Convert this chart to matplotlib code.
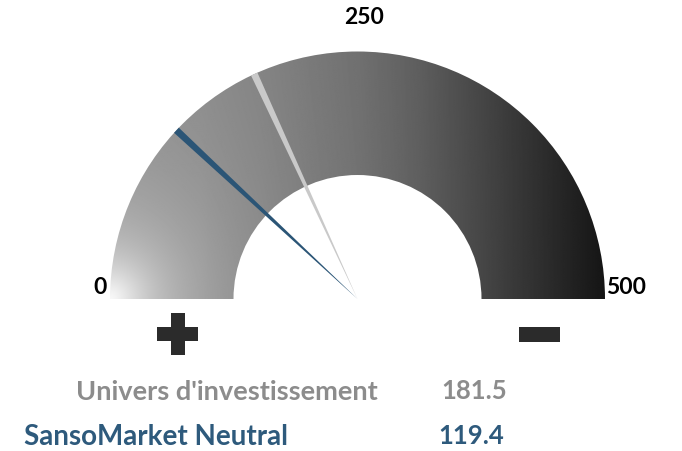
import numpy as np
import matplotlib
matplotlib.use("Agg")
import matplotlib.pyplot as plt
from matplotlib.patches import Wedge, Polygon, Rectangle

# --- data ---
series_names = ["Univers d'investissement", "SansoMarket Neutral"]
series_values = [181.5, 119.4]
series_colors = ["#8c8c8c", "#2e5a7c"]
needle_colors = ["#c9c9c9", "#2b5576"]
scale_min, scale_max = 0, 500
scale_ticks = [0, 250, 500]

plt.rcParams['font.family'] = ['Lato', 'DejaVu Sans']

W, H = 682, 452
fig = plt.figure(figsize=(W / 100, H / 100), dpi=100)
ax = fig.add_axes([0, 0, 1, 1])
ax.set_xlim(0, W)
ax.set_ylim(0, H)
ax.axis("off")

# gauge geometry (pixel coords, y up)
cx, cy = 357.5, H - 300
r_out, r_in = 247.5, 124

# gradient ring: dark to the right, with a white glow in the bottom-left corner
xs = np.linspace(cx - r_out, cx + r_out, 500)
ys = np.linspace(cy, cy + r_out, 250)
gx, gy = np.meshgrid(xs, ys)
base = np.interp(gx, [110, 200, 260, 357, 420, 480, 540, 605],
                 [0.54, 0.52, 0.49, 0.42, 0.35, 0.26, 0.17, 0.07])
d = np.hypot(gx - (cx - r_out), gy - cy)
light = np.clip(base + 0.43 / (1 + (d / 48) ** 1.5), 0, 1)
img = ax.imshow(light, cmap="gray", vmin=0, vmax=1, origin="lower",
                extent=[cx - r_out, cx + r_out, cy, cy + r_out],
                interpolation="bilinear", zorder=1)
ring = Wedge((cx, cy), r_out, 0, 180, width=r_out - r_in,
             facecolor="none", edgecolor="none", transform=ax.transData)
ax.add_patch(ring)
img.set_clip_path(ring)

# needles (tapered wedges from centre to outer radius)
for val, col in zip(series_values, needle_colors):
    a = np.pi * (1 - (val - scale_min) / (scale_max - scale_min))
    ux, uy = np.cos(a), np.sin(a)
    px, py = -uy, ux
    hw = 3.5
    tip = (cx, cy)
    b1 = (cx + r_out * ux + hw * px, cy + r_out * uy + hw * py)
    b2 = (cx + r_out * ux - hw * px, cy + r_out * uy - hw * py)
    ax.add_patch(Polygon([tip, b1, b2], closed=True, facecolor=col,
                         edgecolor="none", zorder=3))

# scale labels
lab_kw = dict(fontsize=16.5, fontweight="bold", color="black", va="center")
ax.text(107, H - 287, str(scale_ticks[0]), ha="right", **lab_kw)
ax.text(364, H - 18, str(scale_ticks[1]), ha="center", **lab_kw)
ax.text(606, H - 287, str(scale_ticks[2]), ha="left", **lab_kw)

# plus / minus signs
sign_col = "#2b2b2b"
ax.add_patch(Rectangle((157, H - 342), 41, 14, facecolor=sign_col, edgecolor="none"))
ax.add_patch(Rectangle((171, H - 356), 14, 42, facecolor=sign_col, edgecolor="none"))
ax.add_patch(Rectangle((519, H - 343), 41, 15, facecolor=sign_col, edgecolor="none"))

# legend rows
ax.text(378, H - 392, series_names[0], ha="right", va="center",
        fontsize=19.5, fontweight="bold", color=series_colors[0])
ax.text(441, H - 391, f"{series_values[0]:.1f}", ha="left", va="center",
        fontsize=18.5, fontweight="bold", color=series_colors[0])
ax.text(24, H - 437, series_names[1], ha="left", va="center",
        fontsize=20, fontweight="bold", color=series_colors[1])
ax.text(438, H - 436, f"{series_values[1]:.1f}", ha="left", va="center",
        fontsize=18.5, fontweight="bold", color=series_colors[1])

fig.savefig("out.png", dpi=100)
